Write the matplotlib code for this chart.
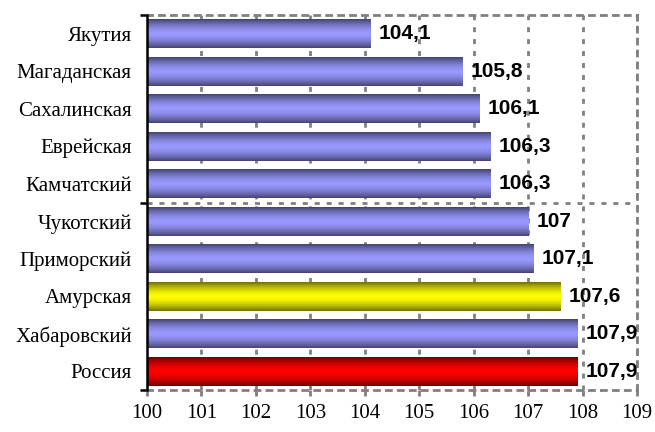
import matplotlib.pyplot as plt
import numpy as np

regions = ['Якутия', 'Магаданская', 'Сахалинская', 'Еврейская', 'Камчатский',
           'Чукотский', 'Приморский', 'Амурская', 'Хабаровский', 'Россия']
values = [104.1, 105.8, 106.1, 106.3, 106.3, 107.0, 107.1, 107.6, 107.9, 107.9]
labels = ['104,1', '105,8', '106,1', '106,3', '106,3', '107', '107,1', '107,6', '107,9', '107,9']
kinds = ['blue'] * 7 + ['yellow', 'blue', 'red']

# edge colour, centre colour of the vertical gradient
palette = {
    'blue': ((0.27, 0.27, 0.45), (0.60, 0.60, 1.00)),
    'yellow': ((0.45, 0.45, 0.0), (1.0, 1.0, 0.0)),
    'red': ((0.45, 0.0, 0.0), (1.0, 0.0, 0.0)),
}

fig = plt.figure(figsize=(6.55, 4.32), dpi=100)
ax = fig.add_axes([0.2244, 0.0972, 0.7481, 0.8681])

x0 = 100
h = 0.77
n = len(regions)
ys = np.arange(n)[::-1]
dash = (0, (1.8, 2.5))

t = np.linspace(-1, 1, 64)
w = np.abs(t) ** 1.6
for y, v, lab, k in zip(ys, values, labels, kinds):
    edge, centre = palette[k]
    img = np.zeros((64, 1, 3))
    for c in range(3):
        img[:, 0, c] = centre[c] * (1 - w) + edge[c] * w
    ax.imshow(img, extent=[x0, v, y - h / 2, y + h / 2], aspect='auto',
              interpolation='bilinear', zorder=2)
    ax.annotate(lab, (v, y), xytext=(6, 0), textcoords='offset points',
                ha='left', va='center', fontsize=15, fontweight='bold',
                family='Liberation Sans', zorder=3)

ax.set_xlim(100, 109)
ax.set_ylim(-0.5, n - 0.5)
ax.set_xticks(range(100, 110))
ax.set_yticks(ys)
ax.set_yticklabels(regions, family='Liberation Serif', fontsize=15)
for lab in ax.get_xticklabels():
    lab.set_family('Liberation Serif')
    lab.set_fontsize(15)

# vertical dashed grid at each integer, behind the bars
for xv in range(101, 110):
    ax.axvline(xv, color='#808080', ls=dash, lw=2, zorder=1)
ax.axhline(4.5, color='#808080', ls=dash, lw=2, zorder=1)

for s in ['top', 'right', 'bottom']:
    ax.spines[s].set_color('#808080')
    ax.spines[s].set_linestyle(dash)
    ax.spines[s].set_linewidth(2)
ax.spines['left'].set_linewidth(1.8)
ax.spines['left'].set_zorder(4)

ax.tick_params(axis='y', length=0, pad=11)
ax.tick_params(axis='x', length=4, color='#808080', width=2, pad=6)

# black minor ticks on y at top, middle, bottom
ax.set_yticks([-0.5, 4.5, 9.5], minor=True)
ax.tick_params(axis='y', which='minor', length=5, width=1.8, color='black')

fig.savefig('out.png', dpi=100)
